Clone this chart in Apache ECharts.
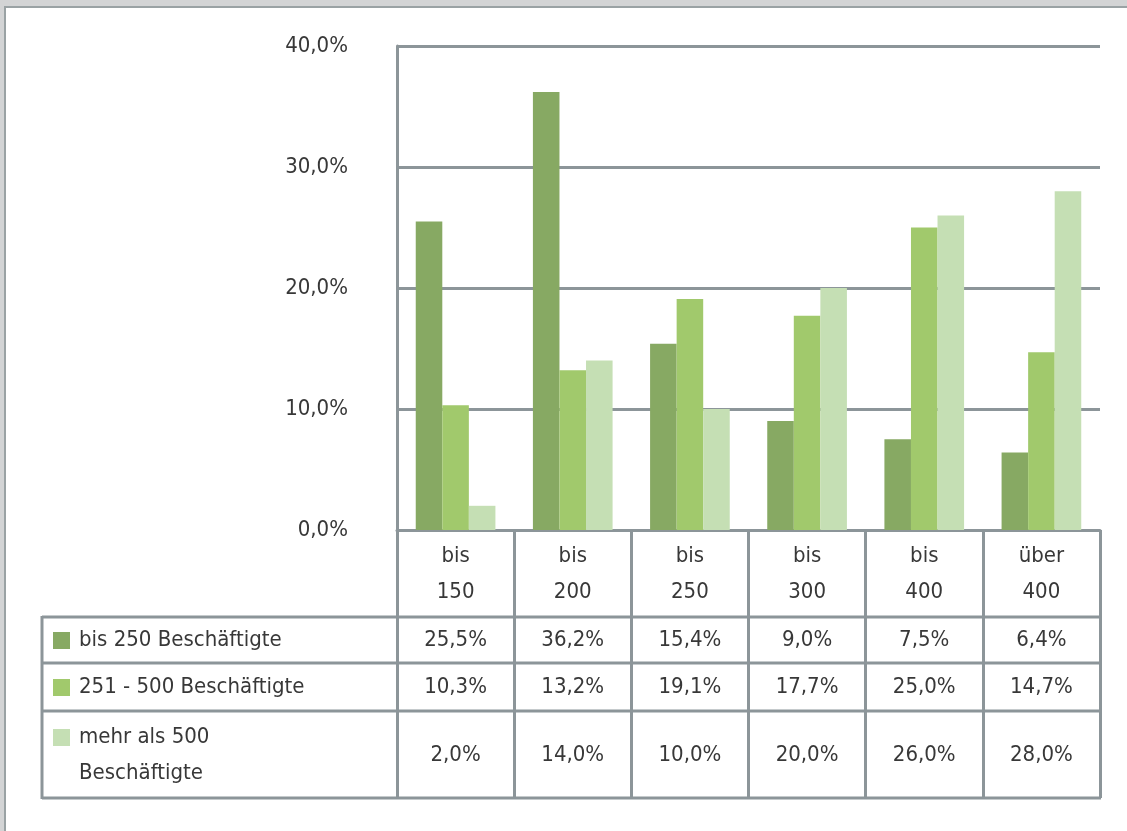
<!DOCTYPE html>
<html>
<head>
<meta charset="utf-8">
<script src="https://cdn.jsdelivr.net/npm/echarts@6/dist/echarts.min.js"></script>
<style>
  html, body { margin: 0; padding: 0; background: #fff; }
  #chart { width: 1127px; height: 831px; }
</style>
</head>
<body>
<div id="chart"></div>
<script>
const categories = ['bis\n150', 'bis\n200', 'bis\n250', 'bis\n300', 'bis\n400', 'über\n400']
const seriesNames = ['bis 250 Beschäftigte', '251 - 500 Beschäftigte', 'mehr als 500\nBeschäftigte']
const upTo250 = [25.5, 36.2, 15.4, 9.0, 7.5, 6.4]
const from251to500 = [10.3, 13.2, 19.1, 17.7, 25.0, 14.7]
const over500 = [2.0, 14.0, 10.0, 20.0, 26.0, 28.0]
const yTicks = [0, 10, 20, 30, 40]

const COLORS = ['#87a963', '#a1c96c', '#c5dfb4']
const LINE = '#8c9599'
const FONT = '"Liberation Sans Narrow", "DejaVu Sans Condensed", sans-serif'
const FONT_SIZE = 22
const TEXT = '#383838'

const fmt = (v) => v.toFixed(1).replace('.', ',') + '%'

// layout of the grid + data table below it
const W = 1127
const grid = { left: 397, right: 27, top: 46, bottom: 301 }
const gridRight = W - grid.right
const zeroY = 831 - grid.bottom
const tableLeft = 42
const rowLines = [617, 663, 711, 798] // header bottom, row borders, table bottom
const rowCenters = [640, 687, 755]

const allSeries = [upTo250, from251to500, over500]

const chart = echarts.init(document.getElementById('chart'))

const valueAxes = allSeries.map((values, i) => ({
  type: 'category',
  gridIndex: 0,
  position: 'bottom',
  offset: rowLines[i] - zeroY,
  data: values.map(fmt),
  axisLine: { show: false },
  axisTick: { show: false },
  axisLabel: {
    interval: 0,
    margin: rowCenters[i] - rowLines[i],
    verticalAlign: 'middle',
    fontFamily: FONT,
    fontSize: FONT_SIZE,
    color: TEXT
  }
}))

const legendGraphics = []
seriesNames.forEach((name, i) => {
  const lineY = i === 2 ? 737 : rowCenters[i]
  legendGraphics.push({
    type: 'rect',
    shape: { x: 53, y: lineY - 8, width: 17, height: 17 },
    style: { fill: COLORS[i] }
  })
  legendGraphics.push({
    type: 'text',
    x: 79,
    y: lineY - 18,
    style: {
      text: name,
      font: `${FONT_SIZE}px ${FONT}`,
      fill: TEXT,
      lineHeight: 36,
      verticalAlign: 'top'
    }
  })
})

const option = {
  backgroundColor: '#fff',
  animation: false,
  grid: grid,
  xAxis: [
    {
      type: 'category',
      data: categories,
      axisLine: { show: true, lineStyle: { color: LINE, width: 3 } },
      axisTick: {
        show: true,
        interval: 0,
        length: rowLines[3] - zeroY,
        lineStyle: { color: LINE, width: 3 }
      },
      axisLabel: {
        interval: 0,
        margin: 44,
        verticalAlign: 'middle',
        lineHeight: 36,
        fontFamily: FONT,
        fontSize: FONT_SIZE,
        color: TEXT
      }
    },
    ...valueAxes
  ],
  yAxis: {
    type: 'value',
    min: yTicks[0],
    max: yTicks[yTicks.length - 1],
    interval: 10,
    axisLine: { show: true, lineStyle: { color: LINE, width: 3 } },
    axisTick: { show: false },
    splitLine: { lineStyle: { color: LINE, width: 3 } },
    axisLabel: {
      margin: 49,
      fontFamily: FONT,
      fontSize: FONT_SIZE,
      color: TEXT,
      formatter: (v) => fmt(v)
    }
  },
  series: allSeries.map((values, i) => ({
    name: seriesNames[i],
    type: 'bar',
    data: values,
    barGap: '0%',
    barCategoryGap: '32%',
    itemStyle: { color: COLORS[i] }
  })),
  graphic: [
    // window frame
    { type: 'rect', shape: { x: 0, y: 0, width: W, height: 6 }, style: { fill: '#d3d4d5' } },
    { type: 'rect', shape: { x: 0, y: 6, width: W, height: 2 }, style: { fill: '#9aa2a4' } },
    { type: 'rect', shape: { x: 0, y: 0, width: 4, height: 831 }, style: { fill: '#d3d4d5' } },
    { type: 'rect', shape: { x: 4, y: 6, width: 2, height: 825 }, style: { fill: '#9aa2a4' } },
    // data table rules
    ...rowLines.map((y) => ({
      type: 'line',
      shape: { x1: tableLeft, y1: y, x2: gridRight + 1, y2: y },
      style: { stroke: LINE, lineWidth: 3 }
    })),
    {
      type: 'line',
      shape: { x1: tableLeft, y1: rowLines[0] - 1, x2: tableLeft, y2: rowLines[3] + 1 },
      style: { stroke: LINE, lineWidth: 3 }
    },
    ...legendGraphics
  ]
}

chart.setOption(option)
</script>
</body>
</html>
